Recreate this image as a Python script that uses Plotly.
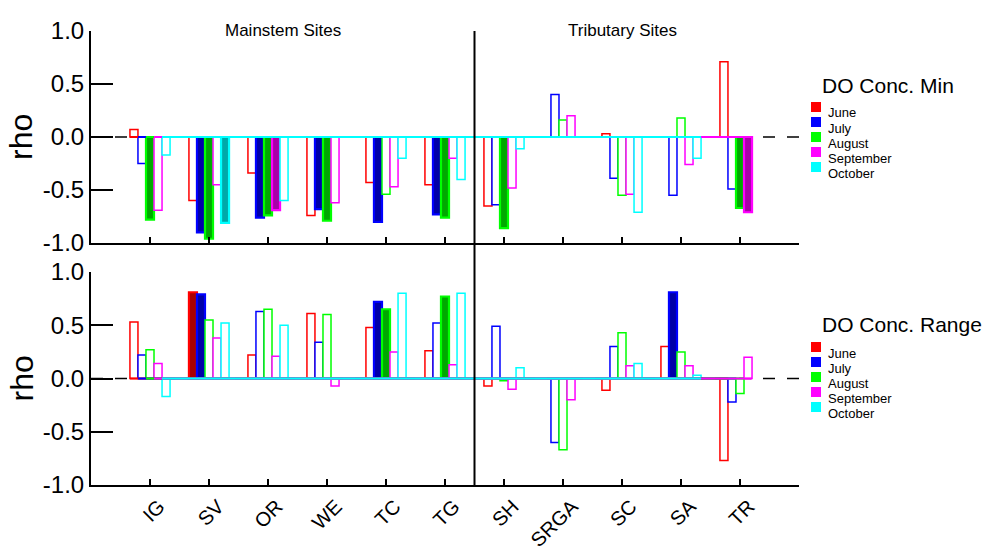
import plotly.graph_objects as go

# sites along the x axis
sites = ['IG', 'SV', 'OR', 'WE', 'TC', 'TG', 'SH', 'SRGA', 'SC', 'SA', 'TR']
months = ['June', 'July', 'August', 'September', 'October']

# rho, DO Conc. Min (None = no bar)
min_june = [0.07, -0.60, -0.34, -0.74, -0.43, -0.45, -0.65, None, 0.03, None, 0.71]
min_july = [-0.25, -0.90, -0.76, -0.68, -0.80, -0.73, -0.64, 0.40, -0.39, -0.55, -0.49]
min_aug = [-0.78, -0.96, -0.74, -0.79, -0.54, -0.76, -0.86, 0.16, -0.55, 0.18, -0.67]
min_sep = [-0.69, -0.45, -0.69, -0.62, -0.47, -0.20, -0.48, 0.20, -0.54, -0.26, -0.71]
min_oct = [-0.17, -0.81, -0.60, None, -0.20, -0.40, -0.11, None, -0.71, -0.20, None]

# rho, DO Conc. Range
rng_june = [0.53, 0.81, 0.22, 0.61, 0.48, 0.26, -0.07, None, -0.11, 0.30, -0.77]
rng_july = [0.22, 0.79, 0.63, 0.34, 0.72, 0.52, 0.49, -0.60, 0.30, 0.81, -0.22]
rng_aug = [0.27, 0.55, 0.65, 0.60, 0.65, 0.77, -0.02, -0.67, 0.43, 0.25, -0.14]
rng_sep = [0.14, 0.38, 0.21, -0.07, 0.25, 0.13, -0.10, -0.20, 0.12, 0.12, 0.20]
rng_oct = [-0.17, 0.52, 0.50, None, 0.80, 0.80, 0.10, None, 0.14, 0.03, None]

# filled (significant) bars
min_sig = {
    'June': [],
    'July': ['SV', 'OR', 'WE', 'TC', 'TG'],
    'August': ['IG', 'SV', 'OR', 'WE', 'TG', 'SH', 'TR'],
    'September': ['OR', 'TR'],
    'October': ['SV'],
}
rng_sig = {
    'June': ['SV'],
    'July': ['SV', 'TC', 'SA'],
    'August': ['TC', 'TG'],
    'September': [],
    'October': [],
}

ytick_vals = [-1.0, -0.5, 0.0, 0.5, 1.0]
ytick_text = ['-1.0', '-0.5', '0.0', '0.5', '1.0']

bright = ['#ff0000', '#0000ff', '#00ff00', '#ff00ff', '#00ffff']
dark = ['#a80000', '#0000a8', '#00a800', '#a800a8', '#00a8a8']

W, H = 995, 546
OFF = 8  # page body margin of the html
ML, MT = 91 - OFF, 31 - OFF
MR = W - (799 - OFF)
MB = H - (485 - OFF)
FONT = 'Liberation Sans'
bw = 0.136

fig = go.Figure()


def add_panel(series, sig, xa, ya):
    for k, vals in enumerate(series):
        off = (k - 2) * bw
        xs = [i + off for i in range(len(sites))]
        flags = [s in sig[months[k]] for s in sites]
        fig.add_trace(go.Bar(
            x=xs, y=vals, width=bw, xaxis=xa, yaxis=ya, showlegend=False,
            marker=dict(color=[dark[k] if f else 'white' for f in flags],
                        line=dict(color=bright[k], width=[2.2 if f else 1.5 for f in flags])),
        ))
    # baseline of each series, drawn like the original package does
    for k, vals in enumerate(series):
        off = (k - 2) * bw
        idx = [i for i, v in enumerate(vals) if v is not None]
        fig.add_trace(go.Scatter(
            x=[idx[0] + off - bw / 2, idx[-1] + off + bw / 2], y=[0, 0],
            mode='lines', line=dict(color=bright[k], width=2),
            xaxis=xa, yaxis=ya, showlegend=False, hoverinfo='skip'))


add_panel([min_june, min_july, min_aug, min_sep, min_oct], min_sig, 'x', 'y')
add_panel([rng_june, rng_july, rng_aug, rng_sep, rng_oct], rng_sig, 'x2', 'y2')

ph = H - MT - MB
pw = W - ML - MR


# positions given in screen pixels of the reference
def py(pix):
    return (H - MB - (pix - OFF)) / ph


def px(pix):
    return (pix - OFF - ML) / pw


top_dom = [py(243), 1.0]
bot_dom = [0.0, py(272)]

xcommon = dict(range=[-1, 11], tickvals=list(range(12)), ticktext=sites + [''],
               ticks='inside', ticklen=6, tickwidth=1.5, tickcolor='black',
               showline=True, linecolor='black', linewidth=2,
               showgrid=False, zeroline=False, automargin=False)
ycommon = dict(range=[-1, 1], tickvals=ytick_vals, ticktext=ytick_text,
               ticks='inside', ticklen=22, tickwidth=1.5, tickcolor='black',
               showline=True, linecolor='black', linewidth=2,
               showgrid=False, zeroline=False, automargin=False,
               tickfont=dict(family=FONT, size=24, color='black'))

fig.update_layout(
    width=W, height=H,
    margin=dict(l=ML, r=MR, t=MT, b=MB),
    paper_bgcolor='white', plot_bgcolor='white',
    barmode='overlay',
    font=dict(family=FONT, color='black'),
    xaxis=dict(xcommon, anchor='y', showticklabels=False),
    xaxis2=dict(xcommon, anchor='y2', showticklabels=True, tickangle=-45, ticklabelshift=9,
                tickfont=dict(family=FONT, size=20, color='black')),
    yaxis=dict(ycommon, domain=top_dom, anchor='x'),
    yaxis2=dict(ycommon, domain=bot_dom, anchor='x2'),
)

shapes = []
# dashed zero lines
for xr, yr in [('x', 'y'), ('x2', 'y2')]:
    shapes.append(dict(type='line', xref=xr + ' domain', yref=yr, x0=0, x1=1, y0=0, y1=0,
                       line=dict(color='black', width=1.5, dash='12px,12px'), layer='below'))
# divider between mainstem and tributary sites
shapes.append(dict(type='line', xref='x', yref='paper', x0=5.5, x1=5.5, y0=0, y1=1,
                   line=dict(color='black', width=2)))

annotations = [
    dict(text='Mainstem Sites', x=2.25, xref='x', y=py(19), yref='paper',
         showarrow=False, font=dict(size=17)),
    dict(text='Tributary Sites', x=8.0, xref='x', y=py(19), yref='paper',
         showarrow=False, font=dict(size=17)),
]

# y titles
for yr in ['y', 'y2']:
    annotations.append(dict(text='rho', textangle=-90, x=px(21), xref='paper', y=0, yref=yr,
                            xanchor='center', yanchor='middle', showarrow=False,
                            font=dict(size=32)))

# legends
for title, dy in [('DO Conc. Min', 0), ('DO Conc. Range', 240)]:
    annotations.append(dict(text=title, x=px(820), xref='paper', y=py(85 + dy), yref='paper',
                            xanchor='left', yanchor='middle', showarrow=False,
                            font=dict(size=21)))
    for k, m in enumerate(months):
        top = 102 + dy + 15 * k
        shapes.append(dict(type='rect', xref='paper', yref='paper',
                           x0=px(811), x1=px(821), y0=py(top + 10), y1=py(top),
                           fillcolor=bright[k], line=dict(width=0)))
        annotations.append(dict(text=m, x=px(826), xref='paper', y=py(top + 11), yref='paper',
                                xanchor='left', yanchor='middle', showarrow=False,
                                font=dict(size=13)))

fig.update_layout(shapes=shapes, annotations=annotations)

fig.write_html('out.html')
